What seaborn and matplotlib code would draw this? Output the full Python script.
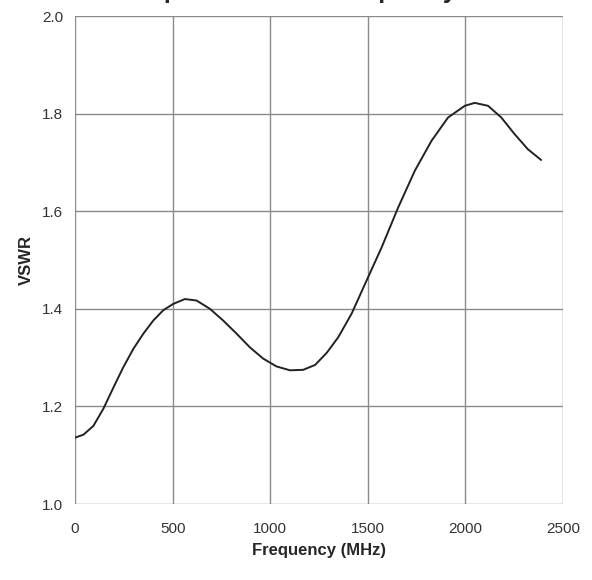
import matplotlib
matplotlib.use("Agg")
import matplotlib.pyplot as plt
import seaborn as sns
import pandas as pd

# Datos
freq_mhz = [0, 43, 94, 145, 196, 247, 299, 350, 401, 452, 503, 563, 623, 691,
            759, 828, 896, 964, 1032, 1101, 1169, 1230, 1290, 1349, 1417, 1486,
            1571, 1656, 1741, 1826, 1911, 1997, 2048, 2116, 2184, 2252, 2320, 2388]
vswr = [1.136, 1.142, 1.160, 1.195, 1.238, 1.280, 1.318, 1.349, 1.376, 1.397,
        1.410, 1.420, 1.417, 1.400, 1.376, 1.349, 1.321, 1.298, 1.282, 1.274,
        1.275, 1.285, 1.310, 1.342, 1.390, 1.451, 1.526, 1.608, 1.683, 1.744,
        1.792, 1.816, 1.822, 1.816, 1.792, 1.758, 1.727, 1.705]
x_ticks = [0, 500, 1000, 1500, 2000, 2500]
y_ticks = [1.0, 1.2, 1.4, 1.6, 1.8, 2.0]
titulo = "Input VSWR vs. Frequency"

data = pd.DataFrame({"freq": freq_mhz, "vswr": vswr})

sns.set_style("white")
plt.rcParams["font.family"] = ["Liberation Sans Narrow", "Liberation Sans", "DejaVu Sans"]

fig = plt.figure(figsize=(5.92, 5.8), dpi=100)
ax = fig.add_axes([0.1267, 0.131, 0.8243, 0.8414])

sns.lineplot(x="freq", y="vswr", data=data, ax=ax, color="#222222", linewidth=1.4)

ax.set_xlim(0, 2500)
ax.set_ylim(1.0, 2.0)
ax.set_xticks(x_ticks)
ax.set_yticks(y_ticks)
ax.set_xticklabels([str(t) for t in x_ticks])
ax.set_yticklabels([f"{t:.1f}" for t in y_ticks])
ax.grid(True, color="#8a8a8a", linewidth=1.0)
for s in ax.spines.values():
    s.set_visible(False)
ax.tick_params(axis="both", direction="out", length=5, width=1.0, color="#8a8a8a",
               labelsize=11, labelcolor="#333333")
ax.tick_params(axis="x", pad=8)

ax.set_xlabel("Frequency (MHz)", fontsize=12, fontweight="bold", labelpad=5)
ax.set_ylabel("VSWR", fontsize=12, fontweight="bold", labelpad=6)

# titulo cortado en el borde superior
fig.text(0.505, 1.003, titulo, ha="center", va="baseline", fontsize=17.8,
         fontweight="bold", family=["Liberation Sans", "DejaVu Sans"])

plt.savefig("out.png", dpi=100)
plt.close()
